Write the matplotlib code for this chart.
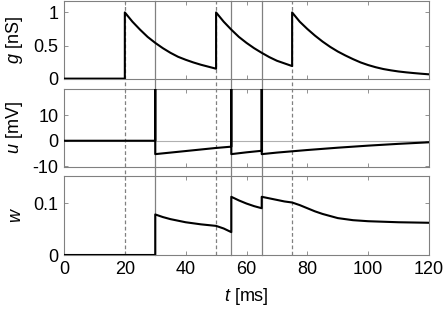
import matplotlib
matplotlib.use("Agg")
import matplotlib.pyplot as plt

plt.rcParams['font.family'] = ['Liberation Sans', 'DejaVu Sans']
plt.rcParams['mathtext.fontset'] = 'custom'
plt.rcParams['mathtext.it'] = 'Liberation Sans:italic'
plt.rcParams['mathtext.rm'] = 'Liberation Sans'

# ---- data ----
input_times = [20, 50, 75]          # dashed lines
spike_times = [30, 55, 65]          # solid lines

g_t = [0, 20,
       20, 22.5, 25, 27.5, 30, 32.5, 35, 37.5, 40, 42.5, 45, 47.5, 50,
       50, 52.5, 55, 57.5, 60, 62.5, 65, 67.5, 70, 72.5, 75,
       75, 77.5, 80, 82.5, 85, 87.5, 90, 92.5, 95, 97.5, 100, 102.5, 105,
       107.5, 110, 112.5, 115, 117.5, 120]
g_v = [0, 0,
       1.0, 0.86, 0.74, 0.63, 0.54, 0.46, 0.39, 0.33, 0.285, 0.245, 0.21, 0.18, 0.15,
       1.0, 0.86, 0.74, 0.63, 0.54, 0.46, 0.39, 0.325, 0.27, 0.23, 0.19,
       1.0, 0.86, 0.75, 0.65, 0.56, 0.48, 0.41, 0.35, 0.295, 0.245, 0.205, 0.172,
       0.145, 0.125, 0.108, 0.095, 0.084, 0.074, 0.065]

u_t = [0, 30, 30, 30, 35, 40, 45, 50, 55, 55, 55, 60, 65, 65, 65, 70, 75,
       80, 90, 100, 110, 120]
u_v = [0, 0, 40, -5.2, -4.6, -4.0, -3.4, -2.8, -2.3, 40, -5.2, -4.5, -3.9,
       40, -5.2, -4.6, -4.1, -3.6, -2.7, -1.9, -1.2, -0.6]

w_t = [0, 30, 30, 32.5, 35, 37.5, 40, 42.5, 45, 47.5, 50, 52.5, 55,
       55, 57.5, 60, 62.5, 65, 65, 67.5, 70, 72.5, 75, 77.5, 80, 82.5, 85,
       87.5, 90, 92.5, 95, 97.5, 100, 110, 120]
w_v = [0, 0, 0.078, 0.073, 0.069, 0.066, 0.063, 0.061, 0.059, 0.0575, 0.056,
       0.051, 0.044, 0.112, 0.105, 0.099, 0.094, 0.090, 0.112, 0.109, 0.106,
       0.103, 0.101, 0.096, 0.090, 0.084, 0.079, 0.075, 0.071, 0.069, 0.067,
       0.066, 0.065, 0.063, 0.062]

x_ticks = [0, 20, 40, 60, 80, 100, 120]
g_ticks = [0, 0.5, 1]
g_ticklabels = ['0', '0.5', '1']
u_ticks = [-10, 0, 10]
u_ticklabels = ['-10', '0', '10']
w_ticks = [0, 0.1]
w_ticklabels = ['0', '0.1']

# ---- layout ----
W, H = 447, 313
fig = plt.figure(figsize=(W / 100, H / 100), dpi=100)
left = 64 / W
width = (429 - 64) / W

def box(top_px, bot_px):
    return [left, 1 - bot_px / H, width, (bot_px - top_px) / H]

ax1 = fig.add_axes(box(0.5, 79.3))
ax2 = fig.add_axes(box(88.5, 167))
ax3 = fig.add_axes(box(176, 255))
axes = [ax1, ax2, ax3]

grey = '#808080'
fs = 13

for ax in axes:
    ax.set_xlim(0, 120)
    ax.set_xticks(x_ticks)
    for s in ax.spines.values():
        s.set_color(grey)
        s.set_linewidth(0.8)
    ax.tick_params(direction='in', length=3, width=0.6, color=grey,
                   top=True, right=True, labelsize=fs, pad=4)

ax1.set_xticklabels([])
ax2.set_xticklabels([])

ax1.set_ylim(-0.01, 1.18)
ax1.set_yticks(g_ticks)
ax1.set_yticklabels(g_ticklabels)
ax2.set_ylim(-10.2, 20.3)
ax2.set_yticks(u_ticks)
ax2.set_yticklabels(u_ticklabels)
ax3.set_ylim(0, 0.152)
ax3.set_yticks(w_ticks)
ax3.set_yticklabels(w_ticklabels)

# vertical marker lines, extended across the gaps between panels
prev = None
for ax in axes:
    pos = ax.get_position()
    ymax = 1.0
    if prev is not None:
        ymax = 1 + (prev.y0 - (pos.y0 + pos.height)) / pos.height
    for t in input_times:
        ax.axvline(t, ymin=0, ymax=ymax, color=grey, lw=0.9,
                   ls=(0, (3, 2)), clip_on=False, zorder=1)
    for t in spike_times:
        ax.axvline(t, ymin=0, ymax=ymax, color=grey, lw=0.9,
                   clip_on=False, zorder=1)
    prev = pos

ax2.axhline(0, color='#b0b0b0', lw=0.8, zorder=1)

lw = 1.5
ax1.plot(g_t, g_v, color='black', lw=lw, zorder=3)
ax2.plot(u_t, u_v, color='black', lw=lw, zorder=3)
ax3.plot(w_t, w_v, color='black', lw=lw, zorder=3)

ax1.set_ylabel(r'$g$ [nS]', fontsize=fs)
ax2.set_ylabel(r'$u$ [mV]', fontsize=fs)
ax3.set_ylabel(r'$w$', fontsize=fs)
for ax in axes:
    ax.yaxis.set_label_coords((25 - 64) / 365, 0.5)
ax3.set_xlabel(r'$t$ [ms]', fontsize=fs, labelpad=6)

fig.savefig('out.png', dpi=100)
